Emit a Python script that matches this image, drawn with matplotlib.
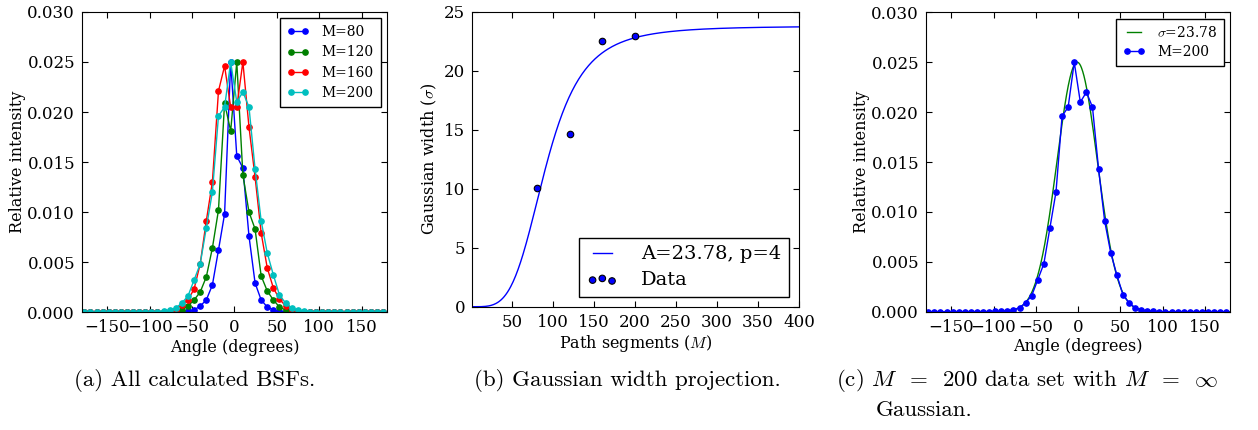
import matplotlib.pyplot as plt
import numpy as np

# ---- data ----
# angle bins (degrees), 7.2 deg spacing
angles = np.arange(50) * 7.2 - 177.3

bsf_80 = [0] * 11 + [0, 0, 0, 0, 0, 0, 0.0001, 0.0002, 0.0006, 0.0012, 0.0027, 0.0062, 0.0098,
                     0.0250, 0.0156, 0.0144, 0.0076, 0.0029, 0.0012, 0.0005, 0.0002, 0.0001,
                     0, 0, 0, 0, 0] + [0] * 12
bsf_120 = [0] * 11 + [0, 0, 0, 0, 0.0001, 0.0002, 0.0006, 0.0012, 0.0020, 0.0035, 0.0064, 0.0102, 0.0209,
                      0.0181, 0.0250, 0.0137, 0.0100, 0.0083, 0.0036, 0.0021, 0.0012, 0.0005, 0.0002, 0.0001,
                      0, 0, 0] + [0] * 12
bsf_160 = [0] * 11 + [0, 0, 0.00005, 0.0001, 0.0002, 0.0007, 0.0012, 0.0023, 0.0048, 0.0091, 0.0130, 0.0221, 0.0246,
                      0.0205, 0.0205, 0.0250, 0.0185, 0.0135, 0.0079, 0.0044, 0.0024, 0.0013, 0.0006, 0.0002, 0.0001,
                      0, 0] + [0] * 12
bsf_200 = [0] * 11 + [0.00003, 0.00005, 0.0001, 0.0002, 0.0004, 0.0009, 0.0016, 0.0032, 0.0048, 0.0084, 0.0120, 0.0196, 0.0205,
                      0.0250, 0.0210, 0.0220, 0.0205, 0.0143, 0.0091, 0.0059, 0.0037, 0.0017, 0.0009, 0.0004, 0.0002,
                      0.0001, 0.00005] + [0] * 12

series = [(bsf_80, 'b', 'M=80'), (bsf_120, 'g', 'M=120'),
          (bsf_160, 'r', 'M=160'), (bsf_200, 'c', 'M=200')]

# gaussian width vs path segments
seg_M = [80, 120, 160, 200]
seg_sigma = [10.05, 14.6, 22.55, 22.95]
fit_A = 23.78
fit_p = 4
fit_c = 91.0

# gaussian for M = infinity
gauss_sigma = 23.78
gauss_amp = 0.025
gauss_mu = -1.0

# ---- style ----
plt.rcParams['font.family'] = ['DejaVu Serif']
plt.rcParams['mathtext.fontset'] = 'cm'
plt.rcParams['xtick.direction'] = 'in'
plt.rcParams['ytick.direction'] = 'in'
plt.rcParams['xtick.top'] = True
plt.rcParams['ytick.right'] = True
plt.rcParams['xtick.major.size'] = 4
plt.rcParams['ytick.major.size'] = 4
plt.rcParams['xtick.major.pad'] = 5
plt.rcParams['ytick.major.pad'] = 5
plt.rcParams['xtick.labelsize'] = 12
plt.rcParams['ytick.labelsize'] = 12
plt.rcParams['axes.labelsize'] = 11.5
plt.rcParams['legend.numpoints'] = 2
plt.rcParams['legend.fancybox'] = False
plt.rcParams['legend.edgecolor'] = 'black'
plt.rcParams['legend.framealpha'] = 1
plt.rcParams['axes.unicode_minus'] = True

fig = plt.figure(figsize=(12.58, 4.30), dpi=100)

# (a) all BSFs
ax1 = fig.add_axes([0.0652, 0.2744, 0.2424, 0.6977])
for vals, col, lab in series:
    ax1.plot(angles, vals, color=col, marker='o', markersize=3.8, markeredgecolor=col,
             linewidth=1.0, label=lab)
ax1.set_xlim(-180, 180)
ax1.set_ylim(0, 0.030)
ax1.set_xticks([-150, -100, -50, 0, 50, 100, 150])
ax1.set_yticks([0, 0.005, 0.010, 0.015, 0.020, 0.025, 0.030])
ax1.yaxis.set_major_formatter(plt.FormatStrFormatter('%.3f'))
ax1.set_xlabel('Angle (degrees)', labelpad=2)
ax1.set_ylabel('Relative intensity', labelpad=1)
leg = ax1.legend(loc='upper right', fontsize=10, handlelength=1.6, borderpad=0.5,
                 labelspacing=0.45, borderaxespad=0.45, handletextpad=0.9)
leg.get_frame().set_linewidth(1.0)

# (b) gaussian width projection
ax2 = fig.add_axes([0.3754, 0.2867, 0.2597, 0.686])
m_fit = np.linspace(1, 400, 400)
sig_fit = fit_A * m_fit ** fit_p / (fit_c ** fit_p + m_fit ** fit_p)
ax2.plot(m_fit, sig_fit, color='b', linewidth=1.0, label='A=23.78, p=4')
ax2.scatter(seg_M, seg_sigma, s=22, c='b', edgecolors='k', linewidths=0.8, zorder=3, label='Data')
ax2.set_xlim(1, 400)
ax2.set_ylim(0, 25)
ax2.set_xticks([50, 100, 150, 200, 250, 300, 350, 400])
ax2.set_yticks([0, 5, 10, 15, 20, 25])
ax2.set_xlabel('Path segments ($M$)', labelpad=2)
ax2.set_ylabel('Gaussian width ($\\sigma$)')
leg = ax2.legend(loc='lower right', fontsize=14, scatterpoints=3,
                 scatteryoffsets=[0.375, 0.5, 0.3125], handlelength=1.6,
                 borderpad=0.4, labelspacing=0.4, borderaxespad=0.5, handletextpad=1.2)
leg.get_frame().set_linewidth(1.0)

# (c) M = 200 with gaussian
ax3 = fig.add_axes([0.7361, 0.2751, 0.2417, 0.6963])
x_g = np.linspace(-180, 180, 721)
y_g = gauss_amp * np.exp(-(x_g - gauss_mu) ** 2 / (2 * gauss_sigma ** 2))
ax3.plot(x_g, y_g, color='g', linewidth=1.0, label='$\\sigma$=23.78')
ax3.plot(angles, bsf_200, color='b', marker='o', markersize=3.8, markeredgecolor='b',
         linewidth=1.0, label='M=200')
ax3.set_xlim(-180, 180)
ax3.set_ylim(0, 0.030)
ax3.set_xticks([-150, -100, -50, 0, 50, 100, 150])
ax3.set_yticks([0, 0.005, 0.010, 0.015, 0.020, 0.025, 0.030])
ax3.yaxis.set_major_formatter(plt.FormatStrFormatter('%.3f'))
ax3.set_xlabel('Angle (degrees)', labelpad=2)
ax3.set_ylabel('Relative intensity', labelpad=1)
leg = ax3.legend(loc='upper right', fontsize=10, handlelength=1.6, borderpad=0.45,
                 labelspacing=0.4, borderaxespad=0.45, handletextpad=0.9)
leg.get_frame().set_linewidth(1.0)

# captions
cap = dict(fontsize=16.5, family='cmr10')
fig.text(0.155, 0.114, '(a) All calculated BSFs.', ha='center', va='center', **cap)
fig.text(0.499, 0.114, '(b) Gaussian width projection.', ha='center', va='center', **cap)
fig.text(0.6645, 0.114, '(c) $M$  =  200 data set with $M$  =  $\\infty$', ha='left', va='center', **cap)
fig.text(0.696, 0.047, 'Gaussian.', ha='left', va='center', **cap)

fig.savefig('out.png', dpi=100)
